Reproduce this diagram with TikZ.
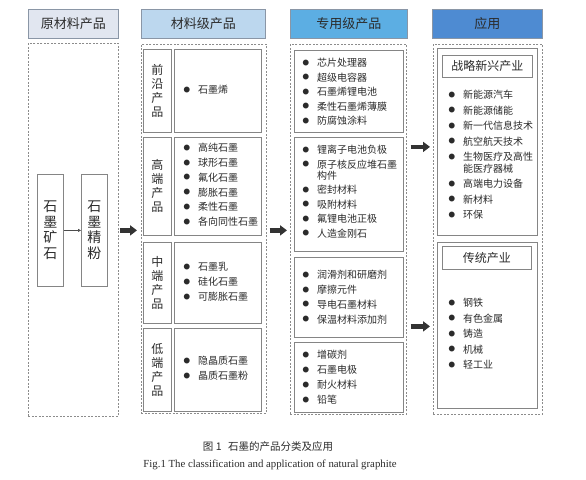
\documentclass[tikz,border=0pt]{standalone}
\usepackage{fontspec}
\setmainfont{Noto Sans CJK SC}
\newfontfamily\capen{Liberation Serif}
\usetikzlibrary{arrows.meta}
\definecolor{hA}{HTML}{E1E6F0}
\definecolor{hB}{HTML}{BCD7EE}
\definecolor{hC}{HTML}{5CAEE3}
\definecolor{hD}{HTML}{4E8BD2}
\definecolor{hdrborder}{HTML}{8A96A6}
\definecolor{dashgray}{HTML}{8C8C8C}
\definecolor{boxgray}{HTML}{858585}
\definecolor{txt}{HTML}{2B2B2B}
\newcommand{\B}{\llap{\raisebox{1.4pt}{\fontsize{6.5pt}{6.5pt}\selectfont ●}\hspace{8pt}}}
\begin{document}
\begin{tikzpicture}[x=1pt,y=-1pt,
  hdr/.style={draw=hdrborder, line width=0.8pt, anchor=north west, inner sep=0pt,
    minimum height=29pt, font=\fontsize{13pt}{15pt}\selectfont, text=txt},
  dbox/.style={draw=dashgray, dash pattern=on 2pt off 1.5pt, line width=0.6pt,
    anchor=north west, inner sep=0pt},
  ibox/.style={draw=boxgray, line width=0.8pt, fill=white, anchor=north west, inner sep=0pt},
  vlab/.style={ibox, align=center, font=\fontsize{12pt}{14pt}\selectfont, text=txt},
  ore/.style={ibox, align=center, font=\fontsize{14pt}{15.5pt}\selectfont, text=txt,
    minimum width=26pt, minimum height=112pt},
  sub/.style={ibox, font=\fontsize{12pt}{14pt}\selectfont, text=txt},
  lst/.style={anchor=north west, inner sep=0pt, align=left,
    font=\fontsize{10pt}{14.8pt}\selectfont, text=txt},
  lstw/.style={lst, font=\fontsize{10pt}{15.5pt}\selectfont},
  bigarrow/.style={line width=4.5pt, draw=black!80, -{Triangle[length=7pt,width=10pt]}},
  smallarrow/.style={line width=0.6pt, draw=black!70, -{Triangle[length=3pt,width=3pt]}},
  ]
\useasboundingbox (0,0) rectangle (586,479);
\fill[white] (0,0) rectangle (586,479);

% headers
\node[hdr, fill=hA, minimum width=90pt]  (h1) at (28,9)  {原材料产品};
\node[hdr, fill=hB, minimum width=124pt] (h2) at (141,9) {材料级产品};
\node[hdr, fill=hC, minimum width=117pt] (h3) at (290,9) {专用级产品};
\node[hdr, fill=hD, minimum width=110pt] (h4) at (432,9) {应用};

% dashed columns
\node[dbox, minimum width=90pt,  minimum height=373pt] (c1) at (28,43) {};
\node[dbox, minimum width=125pt, minimum height=369pt] (c2) at (141,44) {};
\node[dbox, minimum width=116pt, minimum height=370pt] (c3) at (290,44) {};
\node[dbox, minimum width=109pt, minimum height=370pt] (c4) at (433,44) {};

% column 1
\node[ore] (ore1) at (37,174) {石\\墨\\矿\\石};
\node[ore] (ore2) at (81,174) {石\\墨\\精\\粉};
\draw[smallarrow] (ore1.east) -- (ore2.west);

% column 2 labels
\node[vlab, minimum width=28pt, minimum height=83pt] (l1) at (143,49)  {前\\沿\\产\\品};
\node[vlab, minimum width=28pt, minimum height=98pt] (l2) at (143,137) {高\\端\\产\\品};
\node[vlab, minimum width=28pt, minimum height=81pt] (l3) at (143,242) {中\\端\\产\\品};
\node[vlab, minimum width=28pt, minimum height=83pt] (l4) at (143,328) {低\\端\\产\\品};
% column 2 content boxes
\node[ibox, minimum width=87pt, minimum height=83pt] (m1) at (174,49)  {};
\node[ibox, minimum width=87pt, minimum height=98pt] (m2) at (174,137) {};
\node[ibox, minimum width=87pt, minimum height=81pt] (m3) at (174,242) {};
\node[ibox, minimum width=87pt, minimum height=83pt] (m4) at (174,328) {};
\node[lst] (t1) at (198,85)  {\B 石墨烯};
\node[lst] (t2) at (198,143) {\B 高纯石墨\\\B 球形石墨\\\B 氟化石墨\\\B 膨胀石墨\\\B 柔性石墨\\\B 各向同性石墨};
\node[lst, font=\fontsize{10pt}{15pt}\selectfont] (t3) at (198,262) {\B 石墨乳\\\B 硅化石墨\\\B 可膨胀石墨};
\node[lst, font=\fontsize{10pt}{15pt}\selectfont] (t4) at (198,356) {\B 隐晶质石墨\\\B 晶质石墨粉};

% column 3
\node[ibox, minimum width=109pt, minimum height=82pt]  (s1) at (294,50)  {};
\node[ibox, minimum width=109pt, minimum height=114pt] (s2) at (294,137) {};
\node[ibox, minimum width=109pt, minimum height=80pt]  (s3) at (294,257) {};
\node[ibox, minimum width=109pt, minimum height=70pt]  (s4) at (294,342) {};
\node[lst, font=\fontsize{10pt}{14.5pt}\selectfont] (u1) at (317,58) {\B 芯片处理器\\\B 超级电容器\\\B 石墨烯锂电池\\\B 柔性石墨烯薄膜\\\B 防腐蚀涂料};
\node[lst, font=\fontsize{10pt}{14.5pt}\selectfont] (u2) at (317,145) {\B 锂离子电池负极\\\B 原子核反应堆石墨\\[-3.5pt]构件\\\B 密封材料\\\B 吸附材料\\\B 氟锂电池正极\\\B 人造金刚石};
\node[lst] (u3) at (317,270) {\B 润滑剂和研磨剂\\\B 摩擦元件\\\B 导电石墨材料\\\B 保温材料添加剂};
\node[lst, font=\fontsize{10pt}{15pt}\selectfont] (u4) at (317,350) {\B 增碳剂\\\B 石墨电极\\\B 耐火材料\\\B 铅笔};

% column 4
\node[ibox, minimum width=100pt, minimum height=187pt] (a1) at (437,48)  {};
\node[ibox, minimum width=100pt, minimum height=166pt] (a2) at (437,242) {};
\node[sub, minimum width=90pt, minimum height=22pt] (a1h) at (442,55)  {战略新兴产业};
\node[sub, minimum width=89pt, minimum height=23pt] (a2h) at (442,246) {传统产业};
\node[lstw] (v1) at (463,90) {\B 新能源汽车\\\B 新能源储能\\\B 新一代信息技术\\\B 航空航天技术\\\B 生物医疗及高性\\[-4pt]能医疗器械\\\B 高端电力设备\\\B 新材料\\\B 环保};
\node[lstw] (v2) at (463,298) {\B 钢铁\\\B 有色金属\\\B 铸造\\\B 机械\\\B 轻工业};

% big arrows
\draw[bigarrow] ([xshift=1pt]c1.east |- ore2.east) -- ([xshift=-4pt]c2.west |- ore2.east);
\draw[bigarrow] ([xshift=3pt]c2.east |- ore2.east) -- ([xshift=-3pt]c3.west |- ore2.east);
\draw[bigarrow] ([xshift=4pt,yshift=-5pt]c3.east |- a1.west) -- ([xshift=-3pt,yshift=-5pt]c4.west |- a1.west);
\draw[bigarrow] ([xshift=4pt,yshift=-1pt]c3.east |- a2.west) -- ([xshift=-3pt,yshift=-1pt]c4.west |- a2.west);

% captions
\node[text=txt, font=\fontsize{10.5pt}{12pt}\selectfont] (cap1) at (268,446) {图 1\hspace{4pt} 石墨的产品分类及应用};
\node[text=txt, font=\capen\fontsize{10.8pt}{12pt}\selectfont] (cap2) at (270,465) {Fig.1 The classification and application of natural graphite};
\end{tikzpicture}
\end{document}
